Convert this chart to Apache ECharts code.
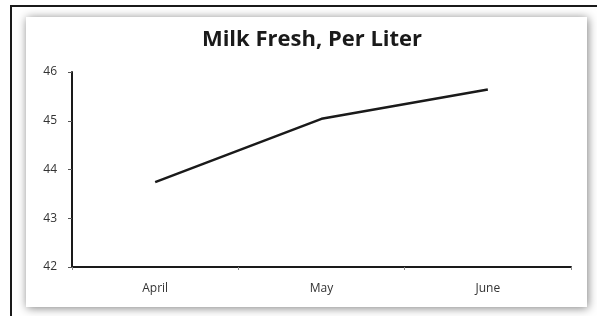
<!DOCTYPE html>
<html>
<head>
<meta charset="utf-8">
<script src="https://cdn.jsdelivr.net/npm/echarts@6/dist/echarts.min.js"></script>
<style>
  html, body { margin: 0; padding: 0; background: #fff; }
  #chart { width: 597px; height: 316px; }
</style>
</head>
<body>
<div id="chart"></div>
<script>
const titleText = 'Milk Fresh, Per Liter'
const months = ['April', 'May', 'June']
const prices = [43.74, 45.04, 45.64]
const yTicks = [42, 43, 44, 45, 46]

const chart = echarts.init(document.getElementById('chart'))

const option = {
  animation: false,
  backgroundColor: '#fff',
  graphic: [
    {
      type: 'rect',
      z: -10,
      shape: { x: 11, y: 6, width: 600, height: 320 },
      style: { fill: '#fff', stroke: '#1a1a1a', lineWidth: 2 }
    },
    {
      type: 'rect',
      z: -9,
      shape: { x: 26, y: 17, width: 561, height: 290 },
      style: {
        fill: '#fff',
        shadowBlur: 9,
        shadowColor: 'rgba(0,0,0,0.5)',
        shadowOffsetX: 1,
        shadowOffsetY: 1
      }
    }
  ],
  title: {
    text: titleText,
    left: 307,
    textAlign: 'center',
    top: 24,
    textStyle: {
      fontFamily: 'Open Sans',
      fontWeight: 'bold',
      fontSize: 22,
      color: '#1a1a1a'
    }
  },
  grid: {
    left: 72,
    right: 26,
    top: 72,
    bottom: 49
  },
  xAxis: {
    type: 'category',
    data: months,
    boundaryGap: true,
    axisLine: { lineStyle: { color: '#1a1a1a', width: 2 } },
    axisTick: { show: true, length: 3, lineStyle: { color: '#888' } },
    axisLabel: { color: '#333', fontSize: 12, fontFamily: 'Open Sans', margin: 16 }
  },
  yAxis: {
    type: 'value',
    min: yTicks[0],
    max: yTicks[yTicks.length - 1],
    interval: 1,
    splitLine: { show: false },
    axisLine: { show: true, lineStyle: { color: '#1a1a1a', width: 2 } },
    axisTick: { show: true, length: 4, lineStyle: { color: '#555' } },
    axisLabel: { color: '#333', fontSize: 12, fontFamily: 'Open Sans', margin: 15 }
  },
  series: [
    {
      type: 'line',
      data: prices,
      showSymbol: false,
      symbol: 'none',
      lineStyle: { color: '#1a1a1a', width: 2.5 }
    }
  ]
}

chart.setOption(option)
</script>
</body>
</html>
